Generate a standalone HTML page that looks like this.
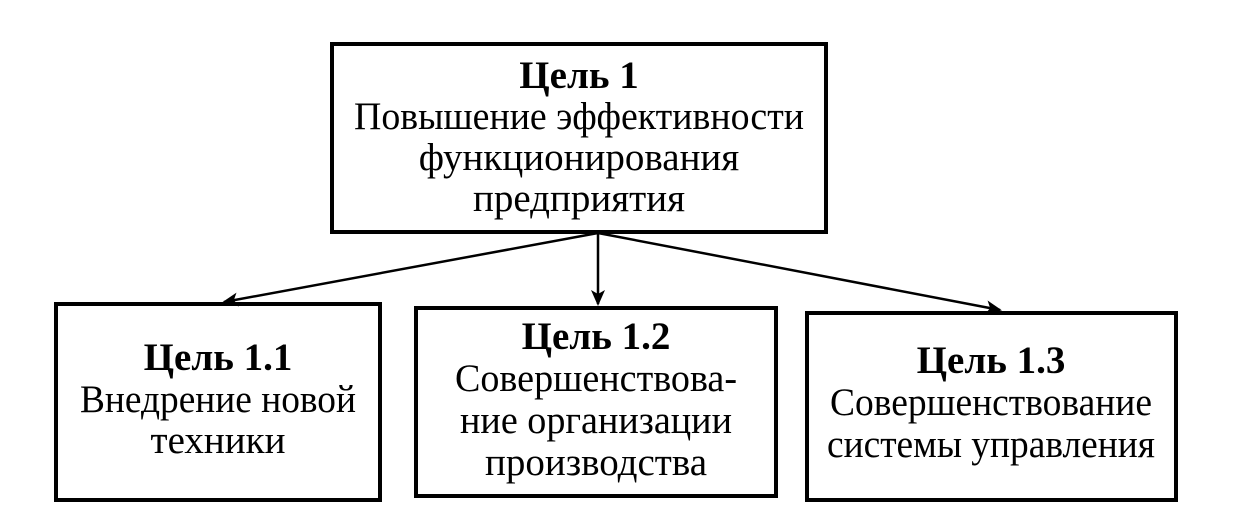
<!DOCTYPE html>
<html><head><meta charset="utf-8"><style>
html,body{margin:0;padding:0;background:#fff;}
svg text{font-family:"Liberation Serif","DejaVu Serif",serif;font-size:39px;fill:#000;}
.b{font-weight:bold;}
</style></head><body>
<svg width="1249" height="527" viewBox="0 0 1249 527" xmlns="http://www.w3.org/2000/svg">
<defs><marker id="a" markerWidth="16" markerHeight="14" refX="14" refY="7" orient="auto" markerUnits="userSpaceOnUse"><path d="M0,0 L16,7 L0,14 L4,7 z" fill="#000"/></marker></defs>
<g fill="none" stroke="#000" stroke-width="4">
<rect x="332" y="44" width="494" height="188"/>
<rect x="56" y="304" width="324" height="196"/>
<rect x="416" y="308" width="360" height="188"/>
<rect x="807" y="313" width="369" height="187"/>
</g>
<g stroke="#000" stroke-width="2.5" marker-end="url(#a)">
<line x1="598" y1="233" x2="224" y2="302"/>
<line x1="598" y1="233" x2="598" y2="304"/>
<line x1="598" y1="233" x2="1000" y2="310"/>
</g>
<g text-anchor="middle">
<text x="579" y="88" class="b">Цель 1</text>
<text x="579" y="129" textLength="450" lengthAdjust="spacingAndGlyphs">Повышение эффективности</text>
<text x="579" y="170">функционирования</text>
<text x="579" y="211">предприятия</text>
<text x="218" y="370" class="b">Цель 1.1</text>
<text x="218" y="412" textLength="276" lengthAdjust="spacingAndGlyphs">Внедрение новой</text>
<text x="218" y="453">техники</text>
<text x="596" y="349" class="b">Цель 1.2</text>
<text x="596" y="391" textLength="282" lengthAdjust="spacingAndGlyphs">Совершенствова-</text>
<text x="596" y="433" textLength="272" lengthAdjust="spacingAndGlyphs">ние организации</text>
<text x="596" y="475">производства</text>
<text x="991" y="373" class="b">Цель 1.3</text>
<text x="991" y="415" textLength="322" lengthAdjust="spacingAndGlyphs">Совершенствование</text>
<text x="991" y="457" textLength="328" lengthAdjust="spacingAndGlyphs">системы управления</text>
</g>
</svg>
</body></html>
